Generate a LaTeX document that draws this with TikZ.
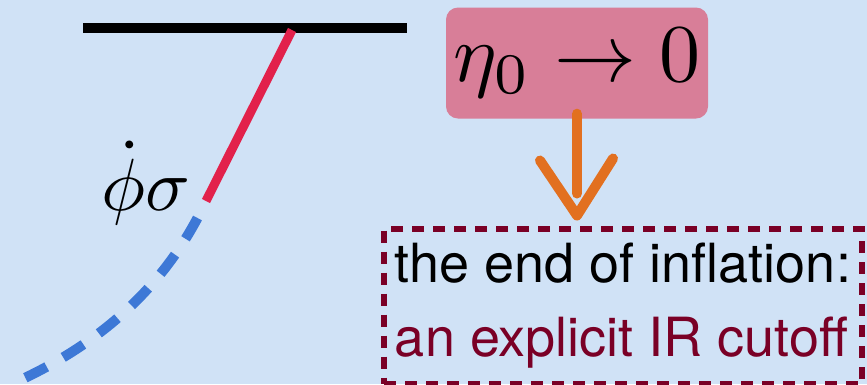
\documentclass[tikz,border=0pt]{standalone}
\usepackage{amsmath}
\usepackage{fontspec}
\setsansfont{TeX Gyre Heros}
\usepackage{tikz}
\definecolor{bgblue}{RGB}{208,226,246}
\definecolor{lidpink}{RGB}{216,126,152}
\definecolor{tracered}{RGB}{226,33,75}
\definecolor{traceblue}{RGB}{61,120,214}
\definecolor{penorange}{RGB}{226,112,32}
\definecolor{cutmaroon}{RGB}{122,0,38}

\begin{document}
\begin{tikzpicture}[x=1pt, y=-1pt,
    bar/.style={line width=10pt},
    redtrace/.style={tracered, line width=9pt},
    bluetrace/.style={traceblue, line width=10pt, dash pattern=on 24pt off 19pt, dash phase=24pt},
    lid/.style={fill=lidpink, rounded corners=12pt, minimum width=262pt, minimum height=111pt, inner sep=0pt},
    cutbox/.style={draw=cutmaroon, line width=6pt, dash pattern=on 12pt off 9pt, minimum width=478pt, minimum height=155pt, inner sep=0pt, align=left, font=\sffamily\fontsize{54}{74}\selectfont},
    orangepen/.style={penorange, line width=10pt, line cap=round, line join=round}]
      \fill[bgblue] (0,0) rectangle (867,384);
      \useasboundingbox (0,0) rectangle (867,384);
      \coordinate (barL) at (83,28);
      \coordinate (barR) at (407,28);
      \coordinate (kink) at (292,30);
      \coordinate (redend) at (206,201);
      \coordinate (blueend) at (14,383);
      \node (rate) [anchor=base, scale=7.4] at (146,210) {$\dot{\phi}\sigma$};
      \node (eta) [lid] at (577,63) {};
      \node (etatext) [scale=8.2] at (eta) {$\eta_0 \to 0$};
      \node (cut) [cutbox] at (623,306) {the end of inflation:\\\textcolor{cutmaroon}{an explicit IR cutoff}};
      \coordinate (tip) at ([yshift=10pt]eta.south |- cut.north);
      \draw[bar] (barL) -- (barR);
      \draw[redtrace] (kink) -- (redend);
      \draw[bluetrace] (redend) .. controls (168,282) and (105,342) .. (blueend);
      \draw[orangepen] ([yshift=5pt]eta.south) -- ([yshift=32pt]eta.south |- cut.north);
      \draw[orangepen] ([shift={(-37,-55)}]tip) -- (tip) -- ([shift={(36,-57)}]tip);
    \end{tikzpicture}
\end{document}
